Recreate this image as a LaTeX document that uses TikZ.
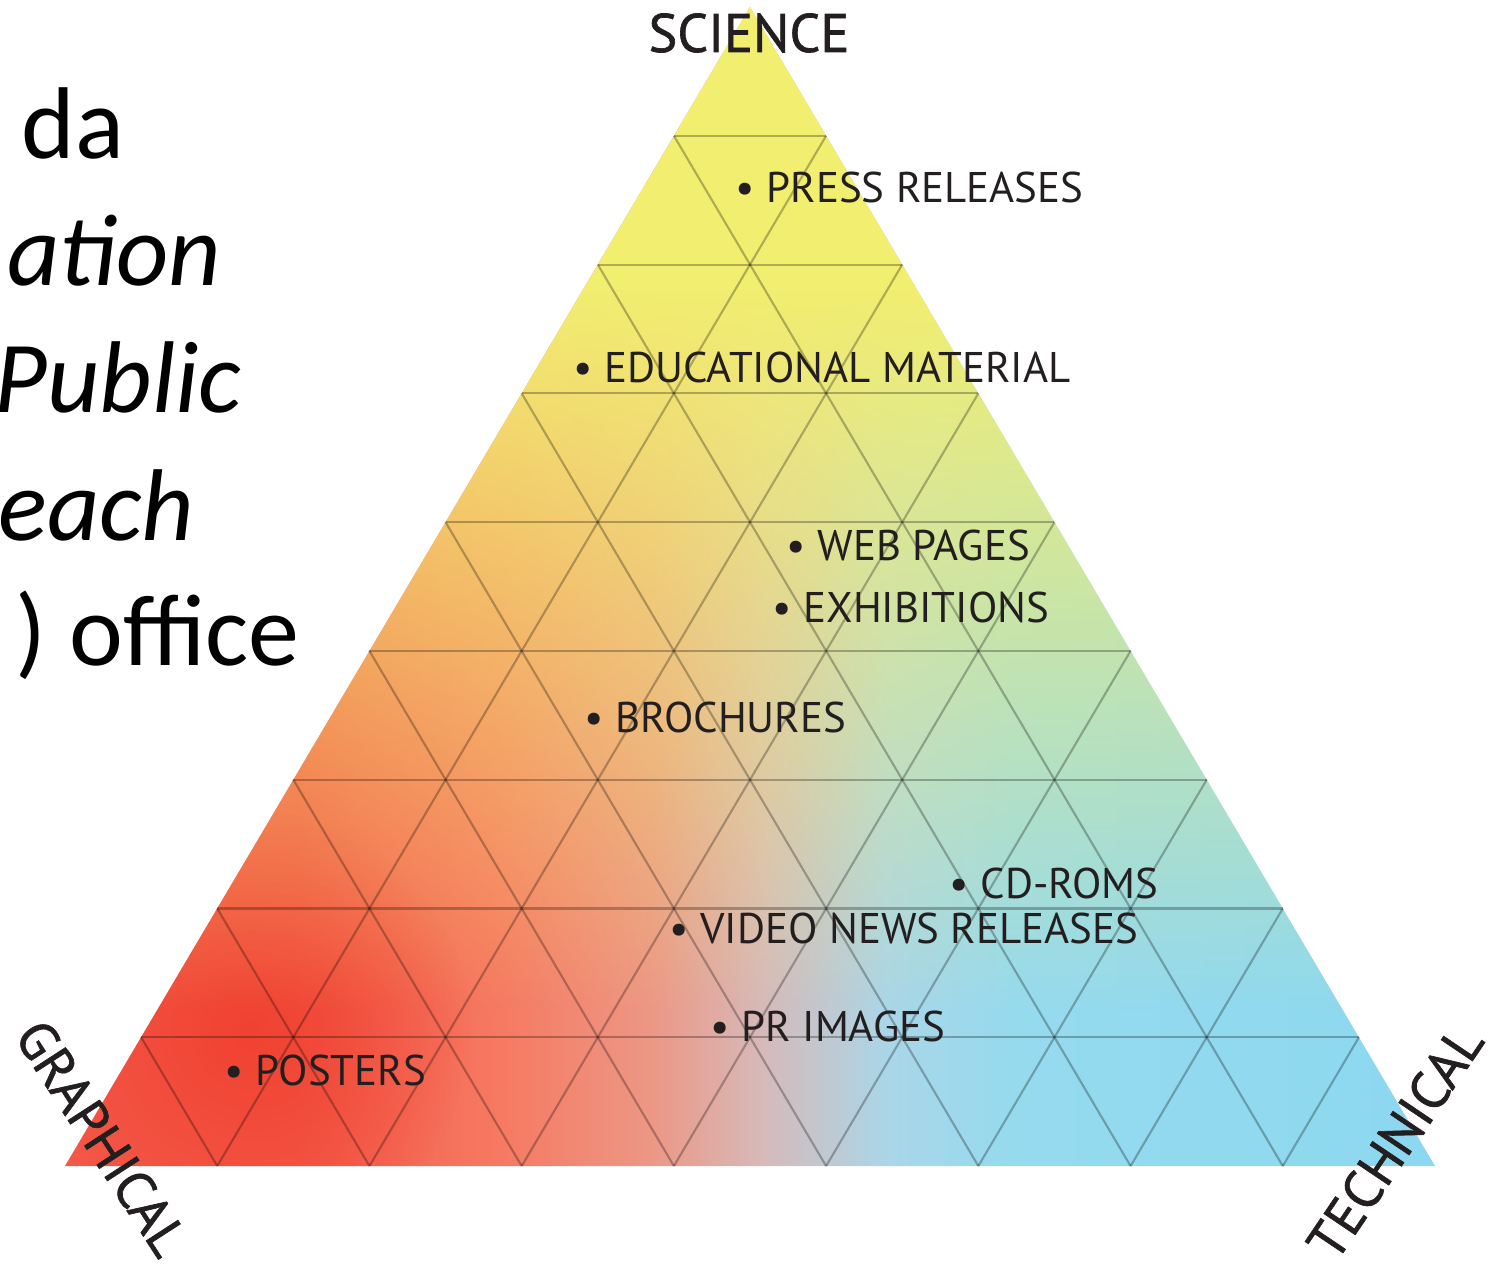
\documentclass[tikz,border=0pt]{standalone}
\usepackage{fontspec}
\setmainfont{PT Sans}
\newfontfamily\slidefont{Carlito}
\newfontfamily\cornerfont[FakeBold=1.2]{PT Sans}
\usetikzlibrary{calc,fadings}

\definecolor{sciyellow}{RGB}{242,238,112}
\definecolor{grared}{RGB}{244,88,72}
\definecolor{spotred}{RGB}{240,66,50}
\definecolor{salmon}{RGB}{246,122,98}
\definecolor{rosegray}{RGB}{236,152,134}
\definecolor{midgray}{RGB}{214,186,186}
\definecolor{paleblue}{RGB}{170,214,232}
\definecolor{skyblue}{RGB}{150,218,238}
\definecolor{tecblue}{RGB}{140,216,240}
\definecolor{inkgray}{RGB}{35,31,32}

\pgfdeclarehorizontalshading{basemix}{100bp}{color(0bp)=(grared); color(25bp)=(grared); color(33.5bp)=(grared); color(41bp)=(salmon); color(46.5bp)=(rosegray); color(50.5bp)=(midgray); color(55bp)=(paleblue); color(59.5bp)=(skyblue); color(75bp)=(tecblue); color(100bp)=(tecblue)}

\tikzfading[name=yellowfade, top color=transparent!0, bottom color=transparent!100]
\tikzfading[name=spotfade, inner color=transparent!0, outer color=transparent!100]

\begin{document}
\begin{tikzpicture}[x=0.01cm, y=-0.01cm,
    item/.style={anchor=base west, inner sep=0pt, text=inkgray, font=\fontsize{12.2}{14}\selectfont},
    corner/.style={inner sep=0pt, text=inkgray, font=\cornerfont\fontsize{15.4}{18}\selectfont},
    slide/.style={anchor=base east, inner sep=0pt, font=\slidefont\fontsize{29}{35}\selectfont},
    gridline/.style={draw=black, draw opacity=0.28, line width=0.6pt}]
    \useasboundingbox (0,0) rectangle (1498,1275);

    % Corners of the triangle
    \coordinate (gr) at (65,1166);
    \coordinate (te) at (1435,1166);
    \coordinate (sc) at (750,7);

    % Colour field
    \begin{scope}
        \clip (gr) -- (te) -- (sc) -- cycle;
        \shade[shading=basemix] (gr) -- (te) -- (sc) -- cycle;
        \fill[spotred, path fading=spotfade] (250,1030) circle (2.2cm);
        \fill[sciyellow] (0,0) rectangle (1498,290);
        \fill[sciyellow, path fading=yellowfade] (0,290) rectangle (1498,1010);
    \end{scope}

    % Triangular grid
    \foreach \k in {1,...,8} {
        \draw[gridline] ($(sc)!\k/9!(gr)$) -- ($(sc)!\k/9!(te)$);
        \draw[gridline] ($(te)!\k/9!(gr)$) -- ($(te)!\k/9!(sc)$);
        \draw[gridline] ($(gr)!\k/9!(te)$) -- ($(gr)!\k/9!(sc)$);
    }

    % Corner labels
    \node[corner] (science) at (749,33) {SCIENCE};
    \node[corner, rotate=-57] (graphical) at (102,1138) {GRAPHICAL};
    \node[corner, rotate=56] (technical) at (1395,1142) {TECHNICAL};

    % Products
    \node[item] (press) at (735,202) {• PRESS RELEASES};
    \node[item] (edu) at (573,382) {• EDUCATIONAL MATERIAL};
    \node[item] (web) at (786,560) {• WEB PAGES};
    \node[item] (exhib) at (772,622) {• EXHIBITIONS};
    \node[item] (broch) at (584,732) {• BROCHURES};
    \node[item] (cdrom) at (949,898) {• CD-ROMS};
    \node[item] (video) at (669,943) {• VIDEO NEWS RELEASES};
    \node[item] (primg) at (710,1041) {• PR IMAGES};
    \node[item] (posters) at (224,1085) {• POSTERS};

    % Slide text on the left
    \node[slide] (line1) at (125,158) {da};
    \node[slide] (line2) at (222,285) {\itshape ation};
    \node[slide] (line3) at (242,412) {\itshape Public};
    \node[slide] (line4) at (195,540) {\itshape each};
    \node[slide] (line5) at (300,665) {) office};
\end{tikzpicture}
\end{document}
